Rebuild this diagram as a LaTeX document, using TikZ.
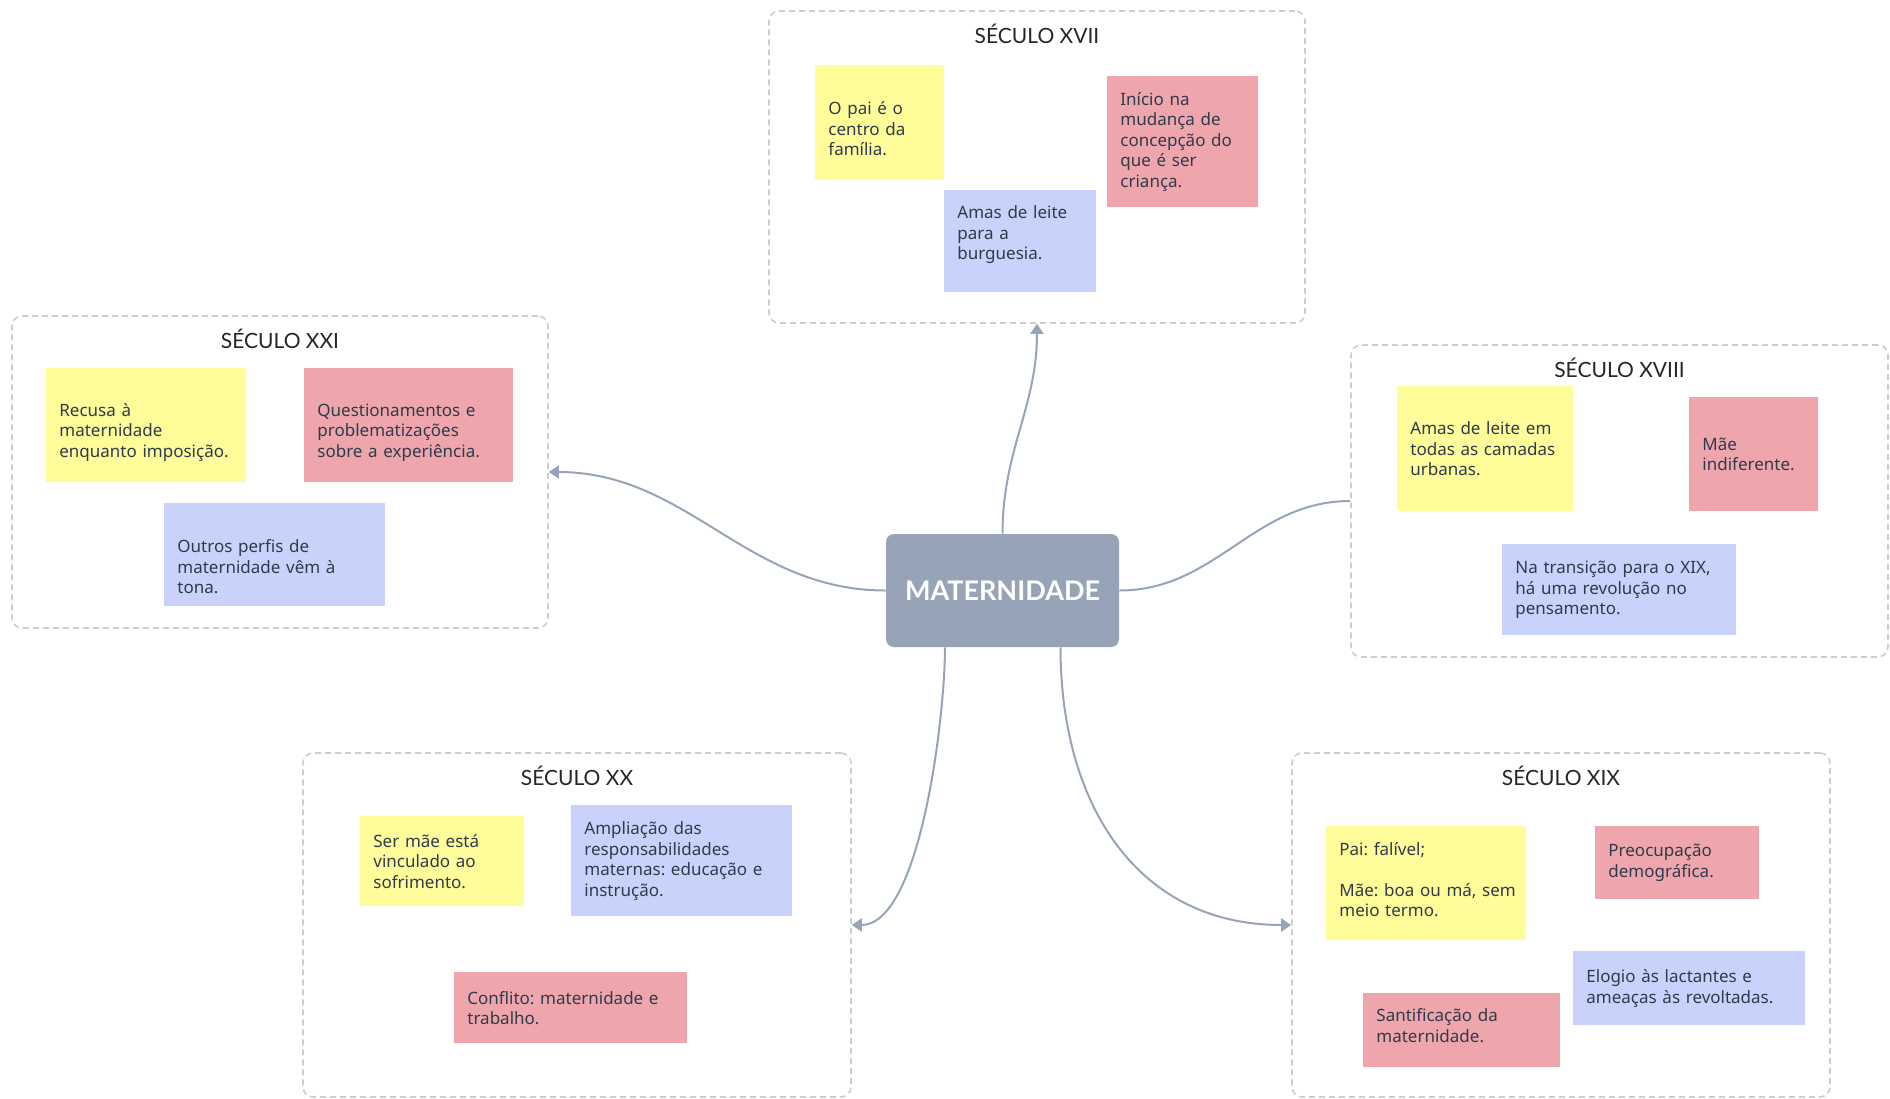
\documentclass[tikz,border=0pt]{standalone}
\usepackage{fontspec}
\setmainfont{Noto Sans}
\newfontfamily\latofont{Lato}
\usetikzlibrary{arrows.meta}
\frenchspacing

\definecolor{amarelo}{HTML}{FFFC9A}
\definecolor{rosa}{HTML}{EEA6AC}
\definecolor{azul}{HTML}{C9D2FA}
\definecolor{central}{HTML}{97A3B7}
\definecolor{cinza}{HTML}{CDCDCD}
\definecolor{textonota}{HTML}{2F3B4C}

\tikzset{
  quadro/.style={draw=cinza, dash pattern=on 3pt off 2pt, line width=0.8pt, rounded corners=5pt, inner sep=0pt},
  titulo/.style={font=\latofont\fontsize{10.5}{12}\selectfont, text=black!85},
  nota/.style={fill=#1, anchor=north west, inner xsep=6.5pt, inner ysep=0pt, align=left, text=textonota, font=\fontsize{8.5}{10.25}\selectfont},
  seta/.style={draw=central, line width=1pt, -{Triangle[length=5pt,width=6.5pt]}}
}

\begin{document}
\begin{tikzpicture}[x=0.5pt, y=-0.5pt]
  \useasboundingbox (0,0) rectangle (1890,1098);

  % quadros dos seculos
  \node[quadro, minimum width=268pt, minimum height=156pt] (s17) at (1037,167) {};
  \node[quadro, minimum width=268pt, minimum height=156pt] (s21) at (280,472) {};
  \node[quadro, minimum width=268.5pt, minimum height=156pt] (s18) at (1619.5,501) {};
  \node[quadro, minimum width=274pt, minimum height=172pt] (s20) at (577,925) {};
  \node[quadro, minimum width=269pt, minimum height=172pt] (s19) at (1561,925) {};

  \node[titulo] (t17) at ([yshift=-12pt]s17.north) {SÉCULO XVII};
  \node[titulo] (t21) at ([yshift=-12pt]s21.north) {SÉCULO XXI};
  \node[titulo] (t18) at ([yshift=-12pt]s18.north) {SÉCULO XVIII};
  \node[titulo] (t20) at ([yshift=-12pt]s20.north) {SÉCULO XX};
  \node[titulo] (t19) at ([yshift=-12pt]s19.north) {SÉCULO XIX};

  % seculo XVII
  \node[nota=amarelo, text width=51.5pt, minimum height=57.5pt] (n17a) at (815,65) {\rule{0pt}{12.6pt}O pai é o\\centro da\\família.};
  \node[nota=rosa, text width=62.5pt, minimum height=65.5pt] (n17b) at (1107,76) {Início na\\mudança de\\concepção do\\que é ser\\criança.};
  \node[nota=azul, text width=63pt, minimum height=51pt] (n17c) at (944,190) {Amas de leite\\para a\\burguesia.\rule[-8.6pt]{0pt}{0pt}};

  % seculo XXI
  \node[nota=amarelo, text width=87pt, minimum height=57pt] (n21a) at (46,368) {\rule{0pt}{13.6pt}Recusa à\\maternidade\\enquanto imposição.};
  \node[nota=rosa, text width=91.5pt, minimum height=57pt] (n21b) at (304,368) {\rule{0pt}{13.3pt}Questionamentos e\\problematizações\\sobre a experiência.};
  \node[nota=azul, text width=97.5pt, minimum height=51.5pt] (n21c) at (164,503) {\rule{0pt}{18.5pt}Outros perfis de\\maternidade vêm à\\tona.};

  % seculo XVIII
  \node[nota=amarelo, text width=75pt, minimum height=62.5pt] (n18a) at (1397,386) {Amas de leite em\\todas as camadas\\urbanas.};
  \node[nota=rosa, text width=51.5pt, minimum height=57pt] (n18b) at (1689,397) {Mãe\\indiferente.};
  \node[nota=azul, text width=104pt, minimum height=45.5pt] (n18c) at (1502,544) {Na transição para o XIX,\\há uma revolução no\\pensamento.};

  % seculo XX
  \node[nota=amarelo, text width=69pt, minimum height=45pt] (n20a) at (360,816) {Ser mãe está\\vinculado ao\\sofrimento.};
  \node[nota=azul, text width=97.5pt, minimum height=55.5pt] (n20b) at (571,805) {Ampliação das\\responsabilidades\\maternas: educação e\\instrução.};
  \node[nota=rosa, text width=103.5pt, minimum height=35.5pt] (n20c) at (454,972) {Conflito: maternidade e\\trabalho.};

  % seculo XIX
  \node[nota=amarelo, text width=87pt, minimum height=57pt] (n19a) at (1326,826) {Pai: falível;\\[10.25pt]\mbox{Mãe: boa ou má, sem}\\meio termo.\rule[-3.7pt]{0pt}{0pt}};
  \node[nota=rosa, text width=69pt, minimum height=36.5pt] (n19b) at (1595,826) {Preocupação\\demográfica.};
  \node[nota=azul, text width=103pt, minimum height=37pt] (n19c) at (1573,951) {Elogio às lactantes e\\ameaças às revoltadas.};
  \node[nota=rosa, text width=85.5pt, minimum height=37pt] (n19d) at (1363,993) {Santificação da\\maternidade.\rule[-4.9pt]{0pt}{0pt}};

  % tema central
  \node[fill=central, rounded corners=4pt, minimum width=116.5pt, minimum height=56.5pt, text=white, font=\latofont\bfseries\fontsize{13.5}{15}\selectfont] (mat) at (1002.5,590.5) {MATERNIDADE};

  \draw[seta] (mat.north) to[out=90, in=-90] (s17.south);
  \draw[seta] (mat.west) to[out=180, in=0] (s21.east);
  \draw[draw=central, line width=1pt] (mat.east) to[out=0, in=180] (s18.west);
  \draw[seta] ([xshift=-28.75pt]mat.south) to[out=-90, in=0, looseness=0.6] (s20.east);
  \draw[seta] ([xshift=29pt]mat.south) to[out=-90, in=180, looseness=1.1] (s19.west);
\end{tikzpicture}
\end{document}
